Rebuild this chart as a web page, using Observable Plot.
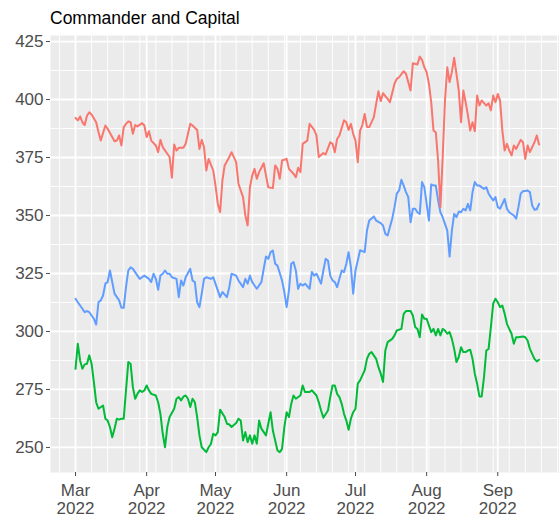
<!DOCTYPE html>
<html>
<head>
<meta charset="utf-8">
<script src="https://cdn.jsdelivr.net/npm/d3@7"></script>
<script src="https://cdn.jsdelivr.net/npm/@observablehq/plot@0.6"></script>
<style>
  html, body { margin: 0; padding: 0; background: white; }
  #wrap { position: relative; width: 559px; height: 518px; overflow: hidden; }
  #title { position: absolute; left: 50px; top: 8px; font-family: 'Liberation Sans', Arial, sans-serif; font-size: 17.5px; color: #000; line-height: normal; white-space: nowrap; }
  #chart { position: absolute; left: 0; top: 28px; }
</style>
</head>
<body>
<div id="wrap">
  <div id="title">Commander and Capital</div>
  <div id="chart"></div>
</div>
<script>
// ---- data (day offsets from 2022-03-01) ----
const startDate = "2022-03-01";

const redDays = [0,1,2,3,4,5,6,7,9,10,11,13,14,16,17,18,19,20,21,22,23,24,25,26,27,29,30,31,32,33,35,36,37,38,40,41,42,43,44,45,47,48,49,50,51,53,54,55,56,57,58,60,61,62,63,64,65,67,68,70,71,73,74,75,76,77,78,79,80,82,83,84,86,87,88,89,90,92,93,95,96,97,98,99,101,102,104,105,106,108,109,111,112,113,114,115,117,118,119,120,121,122,123,124,125,126,127,128,130,131,132,133,134,136,137,139,140,141,143,144,145,146,147,149,150,151,152,153,154,155,156,157,158,159,160,161,162,163,164,165,166,167,168,169,170,171,172,173,174,175,176,177,179,180,181,182,183,184,185,186,187,188,189,190,191,192,194,195,196,197,198,199,200,201,202];
const redValues = [392,391,392.7,390.2,389,393,394.5,393.5,390.2,386,382.3,388.8,387.4,383.8,382,382.3,384.5,380.2,388,389.5,390.6,390.2,385.2,389,388.4,389.8,388.8,383.8,386.3,382.3,380.2,377.3,382.6,379.5,376.6,375.2,366.3,380.6,378,379.2,379.2,380.9,385.2,389.5,388.8,386.9,378.7,382.6,379.5,369.4,374.4,369.4,362.9,355,351.4,365,371.6,375.2,377.3,373,363.7,357.9,350,345.7,362.2,367.2,370.1,365.8,368.7,372.5,367.2,362.2,361.8,371.6,370.1,365.8,373.7,374.4,370.1,368,366.5,370.6,368.7,380.9,382.3,389.5,386.9,384.5,375.2,376.9,376.3,381.6,380.9,377.3,383,384.5,391,390.2,386.9,389.5,385.2,382.3,373,386.6,389,393.8,388.2,388.1,392.4,398.1,403.6,399.3,402.7,400.3,398.8,406.8,408.9,409.6,412.2,411.1,407.5,403.9,415.6,415.1,418.5,417.1,413.9,411.8,406.8,398.8,386.6,385.9,373.7,353.6,375.2,399.6,413.9,407.5,411.8,418,411.1,403.9,390.2,403.9,398.8,393.1,386.6,390.2,386.3,401.7,397.4,399.6,397.4,398.4,395.3,401.7,398.8,402.4,399.6,386.6,378,380.9,378,375.9,380.2,378.7,382.6,381.6,374.4,380.2,377.3,379.5,381.6,384.5,380.6];

const blueDays = [0,1,3,4,5,6,8,9,10,11,12,13,14,15,16,17,19,20,21,22,23,24,25,27,28,29,30,32,33,34,35,36,37,38,39,40,41,42,44,45,46,47,48,50,51,52,53,54,55,56,57,59,60,62,63,64,66,67,68,70,71,73,74,75,76,77,78,79,81,82,83,84,85,86,87,88,90,91,92,93,94,95,96,97,98,99,100,102,103,104,105,107,108,109,110,111,112,113,114,115,116,117,118,119,120,121,122,123,124,126,127,128,130,131,133,134,135,136,137,138,139,140,141,142,143,144,145,146,147,148,149,150,151,152,153,154,155,156,157,158,159,160,162,163,164,165,166,167,168,169,170,171,172,173,174,175,176,178,179,180,181,182,183,184,185,186,187,188,189,191,192,193,194,195,197,198,199,200,201,202];
const blueValues = [314.1,312.6,309.8,308.3,308.8,308.3,305.5,303,312.6,313.4,315.5,320.6,321.3,326.3,321.3,316.3,313.4,310.2,310.2,319.1,326.3,327.7,327,324.1,322.7,323.4,324.1,322.7,321.3,324.9,322.7,318,324.1,324.9,326.3,324.9,324.9,323.4,322.7,314.8,322,319.8,323.4,327,322,321.3,312.6,310.5,316.3,322.7,323.4,322.7,323.4,317.7,314.8,317,314.8,319.1,324.9,324.1,322,319.1,322.7,320.6,324.1,321.3,319.8,318.4,321.3,327,332.3,331.3,334.2,334.9,329.2,328.4,322,317,310.5,317.7,329.2,329.9,326.3,318.4,320.6,319.8,320.6,318.4,325.6,324.1,324.9,320.6,326.3,331.3,330.6,324.1,322,321.3,319.1,322.7,326.3,325.6,329.2,334.2,327.7,316.3,326.3,330.6,335,334.2,343.5,347.8,349.6,347.8,346.7,345.7,342.1,341.4,345,348.6,353.6,359.4,360.8,365.4,362.9,360.1,357.9,347.1,352.9,352.9,351.4,350.7,364.4,362.2,355,347.8,363.4,362.9,362.9,356.5,351.4,349.3,343.5,332.3,343.5,350.7,349.3,351.7,351.4,352.9,352.2,355,352.2,360.1,364.4,362.9,362.9,361.5,362.2,359.4,357.9,356.5,357.9,353.6,352.9,355,357.1,352.9,351.4,350,348.6,353.6,359.4,360.5,360.8,360.1,354.3,352.5,352.7,355];

const greenDays = [0,1,2,3,4,5,6,7,8,9,10,12,13,14,15,16,17,18,19,20,21,22,23,24,25,26,27,28,29,30,31,32,33,35,36,37,38,39,40,41,43,44,45,46,47,48,49,50,51,52,53,54,55,57,58,59,60,61,62,63,65,66,67,68,70,71,72,73,74,75,76,77,78,79,80,81,83,84,85,86,88,89,90,91,92,93,94,95,96,98,99,100,102,103,105,106,107,108,110,111,112,113,114,115,116,117,118,119,120,121,122,123,124,126,127,128,129,131,132,133,134,135,136,138,139,140,142,143,144,146,147,148,149,150,151,152,153,154,155,156,157,158,159,160,161,162,163,164,165,166,167,168,169,170,171,172,173,174,175,176,177,178,179,180,181,182,183,184,185,186,187,188,189,190,191,192,193,195,196,197,198,200,201,202];
const greenValues = [283.9,294.7,287.5,283.9,285.8,286.1,289.7,286.1,278.2,269.5,266.7,268.1,262.4,261.6,258.8,254.4,258.1,262.4,262,262.4,262.4,274.6,286.8,286.1,276,271,273.1,274.6,273.9,274.6,276.7,274.6,273.1,272.4,269.5,264.5,255.9,250.1,258.8,263.1,266.7,271,271.7,270.3,271.9,272.4,271,267.4,271,269.5,263.1,255.2,250.1,248,250.1,251.5,255.9,255.2,256.6,266.3,263.1,260.2,259.9,258.8,260.5,262.4,261.6,253,256.6,252.3,255.2,251.6,255.2,251.6,261.6,258.1,255.2,260.2,265.2,257.3,248.7,248,249.4,258.8,265.2,263.1,268.8,272.4,271,272.4,276.7,273.9,273.9,274.6,272.4,269.5,265.9,262.8,265.9,271.7,276.7,276.7,273.1,271.7,268.8,264.5,261.6,257.6,262.4,265.2,266.7,277.5,278.9,283.2,288.2,290.4,291.1,288.2,284.6,281.8,278.2,291.8,295.4,296.8,298.3,300.4,301.1,307.6,308.8,308.8,306.9,301.9,301.1,297.5,307.3,305.5,305.5,302.6,299.7,301.1,298.3,301.1,298.3,301.1,300.4,299,299.7,296.8,292.5,286.8,289,293.2,291.1,291.1,291.8,292.1,288.2,281.8,277.5,272,272,280.3,291.8,292.5,301.9,312,314.1,312.6,310.5,311.2,307.6,303.3,301.1,299,294.7,297.5,297.5,297.8,297.5,296.1,292.5,288.2,287.1,287.8];

const seriesColors = { red: "#F8766D", green: "#00BA38", blue: "#619CFF" };

const monthTicks = ["2022-03-01","2022-04-01","2022-05-01","2022-06-01","2022-07-01","2022-08-01","2022-09-01"];
const monthLabels = ["Mar","Apr","May","Jun","Jul","Aug","Sep"];
const yearLabel = "2022";
const yTicks = [250, 275, 300, 325, 350, 375, 400, 425];

// ---- build ----
const DAY = 864e5;
const t0 = new Date(startDate + "T00:00:00Z").getTime();
const rows = (days, values) => days.map((d, i) => ({date: new Date(t0 + d * DAY), value: values[i]}));
const red = rows(redDays, redValues);
const blue = rows(blueDays, blueValues);
const green = rows(greenDays, greenValues);

const xDomain = [new Date(t0 - 10.9 * DAY), new Date(t0 + 210.9 * DAY)];
const yDomain = [239.2, 427.6];
const monthDates = monthTicks.map(s => new Date(s + "T00:00:00Z"));
const weekly = d3.utcTuesday.range(xDomain[0], xDomain[1]);
const yMinor = yTicks.map(v => v - 12.5).filter(v => v > yDomain[0] && v < yDomain[1]);
const fmtMonth = d => monthLabels[monthDates.findIndex(m => +m === +d)];

const chart = Plot.plot({
  width: 559,
  height: 490,
  marginTop: 7,
  marginBottom: 46,
  marginLeft: 50,
  marginRight: 0,
  style: { fontSize: "17px", fontFamily: "'Liberation Sans', Arial, sans-serif", background: "white", overflow: "visible" },
  x: { type: "utc", domain: xDomain, label: null },
  y: { domain: yDomain, label: null },
  marks: [
    Plot.frame({ fill: "#EBEBEB", stroke: null }),
    Plot.ruleY(yMinor, { stroke: "white", strokeWidth: 0.9 }),
    Plot.ruleX(weekly, { stroke: "white", strokeWidth: 0.9 }),
    Plot.ruleY(yTicks, { stroke: "white", strokeWidth: 1.8 }),
    Plot.ruleX(monthDates, { stroke: "white", strokeWidth: 1.8 }),
    Plot.line(green, { x: "date", y: "value", stroke: seriesColors.green, strokeWidth: 2 }),
    Plot.line(blue, { x: "date", y: "value", stroke: seriesColors.blue, strokeWidth: 2 }),
    Plot.line(red, { x: "date", y: "value", stroke: seriesColors.red, strokeWidth: 2 }),
    Plot.axisY({ ticks: yTicks, tickSize: 4, tickPadding: 3, color: "#4d4d4d", label: null }),
    Plot.axisX({ ticks: monthDates, tickFormat: fmtMonth, tickSize: 4, tickPadding: 7, color: "#4d4d4d", label: null }),
    Plot.axisX({ ticks: monthDates, tickFormat: () => yearLabel, tickSize: 0, tickPadding: 29, color: "#4d4d4d", label: null })
  ]
});
document.getElementById("chart").appendChild(chart);
</script>
</body>
</html>
